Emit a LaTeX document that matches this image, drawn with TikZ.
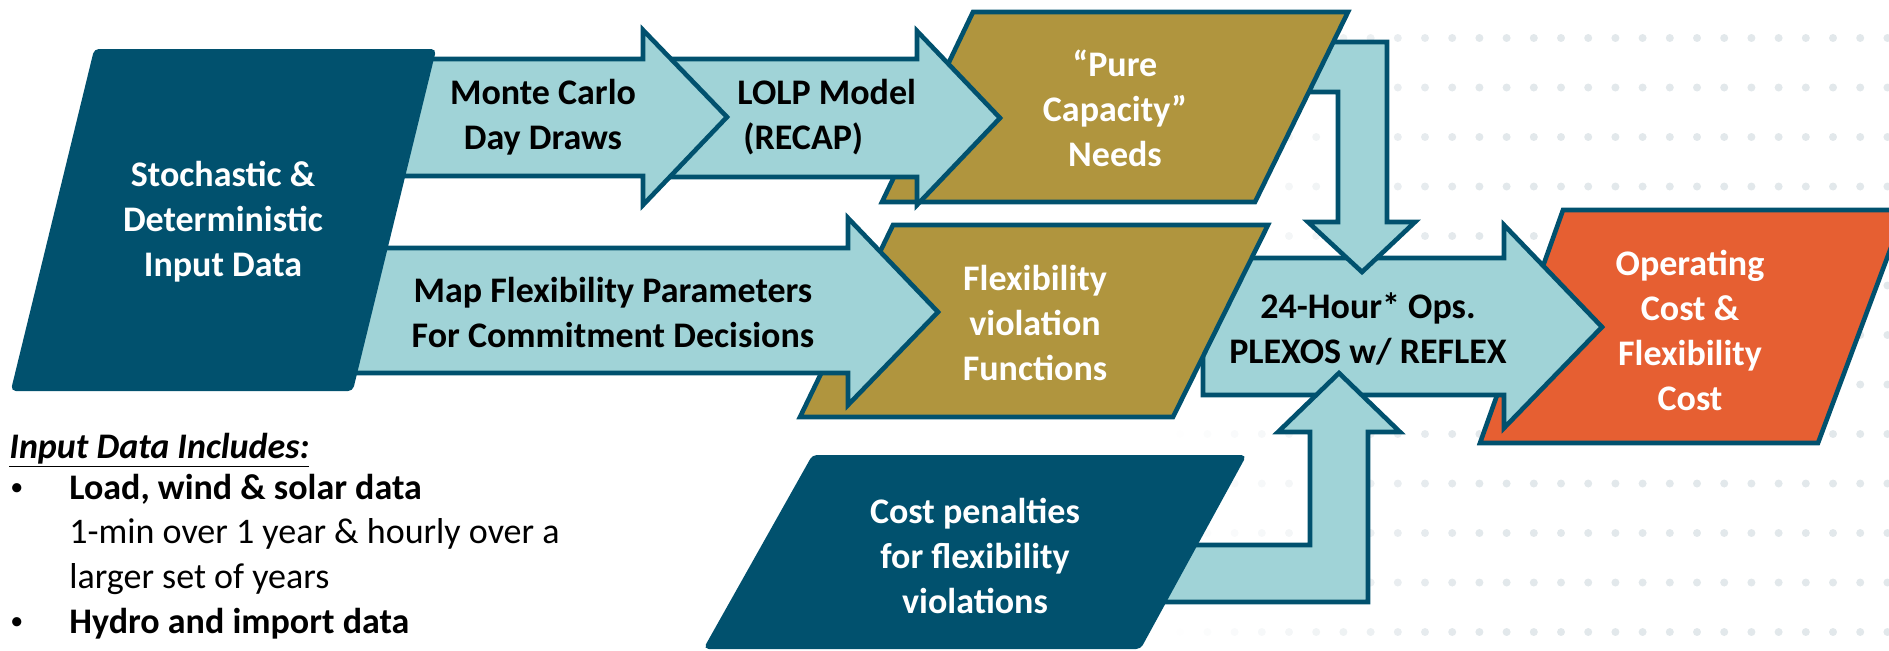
\documentclass[tikz,border=0pt]{standalone}
\usepackage{fontspec}
\setmainfont{Carlito}
\definecolor{dteal}{RGB}{1,81,110}
\definecolor{lteal}{RGB}{160,211,215}
\definecolor{gold}{RGB}{176,149,62}
\definecolor{orng}{RGB}{230,95,50}
\definecolor{dotc}{RGB}{226,232,235}
\tikzset{
  blockarrow/.style={fill=lteal, draw=dteal, line width=2.3pt, miter limit=10},
  databox/.style={fill=dteal, draw=dteal, line width=1pt, rounded corners=2pt},
  goldbox/.style={fill=gold, draw=dteal, line width=2.3pt},
  outbox/.style={fill=orng, draw=dteal, line width=2.3pt},
  wtext/.style={text=white, font=\fontsize{18}{22.5}\selectfont\bfseries, align=center, inner sep=0pt},
  btext/.style={text=black, font=\fontsize{18}{22.5}\selectfont\bfseries, align=center, inner sep=0pt},
  listtext/.style={text=black, font=\fontsize{18}{22.5}\selectfont, anchor=base west, inner sep=0pt},
  bulletmark/.style={text=black, font=\fontsize{13}{16}\selectfont, anchor=base west, inner sep=0pt},
  dotstyle/.style={fill=dotc}
}
\begin{document}
\begin{tikzpicture}[x=0.5pt,y=-0.5pt]
\useasboundingbox (0,0) rectangle (1889,650);
% background dot field, fading to the left
\foreach \j in {0,...,12}{
  \foreach \i in {-10,...,17}{
    \pgfmathsetmacro\xx{1425+27.2*\i}
    \pgfmathsetmacro\op{min(1,max(0,(\xx-1170)/300))}
    \fill[dotstyle, opacity=\op] (\xx,{38+49.5*\j}) circle[radius=4];
  }
}
% output box
\draw[outbox] (1563,210) -- (1905,210) -- (1818,443) -- (1480,443) -- cycle;
% 24-hour operations arrow
\draw[blockarrow] (1203,258) -- (1504,258) -- (1504,225) -- (1602,327) -- (1504,428) -- (1504,395) -- (1203,395) -- cycle;
% bent arrow down from pure capacity
\draw[blockarrow] (1290,42) -- (1387,42) -- (1387,222) -- (1415,222) -- (1362,272) -- (1308,222) -- (1338,222) -- (1338,92) -- (1290,92) -- cycle;
% bent arrow up from cost penalties
\draw[blockarrow] (1150,545) -- (1310,545) -- (1310,432) -- (1278,432) -- (1339,373) -- (1400,432) -- (1368,432) -- (1368,602) -- (1150,602) -- cycle;
% gold boxes
\draw[goldbox] (973,12) -- (1348,12) -- (1255,202) -- (882,202) -- cycle;
\draw[goldbox] (893,225) -- (1268,225) -- (1173,417) -- (800,417) -- cycle;
% cost penalties box
\draw[databox] (813,456) -- (1245,456) -- (1140,648) -- (705,648) -- cycle;
% LOLP arrow
\draw[blockarrow] (645,59) -- (917,59) -- (917,31) -- (1000,118) -- (917,205) -- (917,177) -- (645,177) -- cycle;
% Monte Carlo arrow
\draw[blockarrow] (380,59) -- (643,59) -- (643,30) -- (727,117) -- (643,205) -- (643,176) -- (380,176) -- cycle;
% Map flexibility arrow
\draw[blockarrow] (330,248) -- (848,248) -- (848,218) -- (938,312) -- (848,405) -- (848,373) -- (330,373) -- cycle;
% input data box
\draw[databox] (95,50) -- (435,50) -- (352,390) -- (12,390) -- cycle;

% texts
\node[wtext] (input) at (223,222) {Stochastic \&\\Deterministic\\Input Data};
\node[btext] (mc) at (543,117) {Monte Carlo\\Day Draws};
\node[btext, align=left, anchor=west] (lolp) at (737,117) {LOLP Model\\\,(RECAP)};
\node[btext] (map) at (613,312) {Map Flexibility Parameters\\For Commitment Decisions};
\node[wtext] (pure) at (1115,108) {“Pure\\Capacity”\\Needs};
\node[wtext] (flex) at (1035,323) {Flexibility\\violation\\Functions};
\node[btext] (ops) at (1368,329) {24-Hour* Ops.\\PLEXOS w/ REFLEX};
\node[wtext] (cost) at (1690,330) {Operating\\Cost \&\\Flexibility\\Cost};
\node[wtext] (pen) at (975,556) {Cost penalties\\for flexibility\\violations};

\node[listtext] (hdr) at (9,458) {\textbf{\textit{\underline{Input Data Includes:}}}};
\node[bulletmark] (b1) at (10,495) {•};
\node[listtext] (l1) at (69,499) {\textbf{Load, wind \& solar data}};
\node[listtext] (l2) at (69,543) {1-min over 1 year \& hourly over a};
\node[listtext] (l3) at (69,588) {larger set of years};
\node[bulletmark] (b2) at (10,629) {•};
\node[listtext] (l4) at (69,633) {\textbf{Hydro and import data}};
\end{tikzpicture}
\end{document}
